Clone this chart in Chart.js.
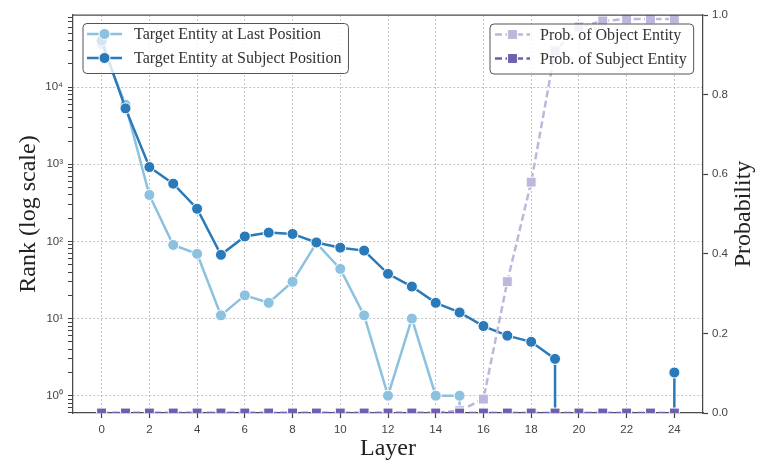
<!DOCTYPE html>
<html lang="en">
<head>
<meta charset="UTF-8">
<title>Rank and probability by layer</title>
<script src="https://cdn.jsdelivr.net/npm/chart.js@4"></script>
<style>
html, body { margin: 0; padding: 0; background: #fff; }
#wrap { position: relative; width: 759px; height: 461px; }
</style>
</head>
<body>
<div id="wrap"><canvas id="rankChart"></canvas></div>
<script>
// values
var layers = [0, 1, 2, 3, 4, 5, 6, 7, 8, 9, 10, 11, 12, 13, 14, 15, 16, 17, 18, 19, 20, 21, 22, 23, 24];
var lastPosRank = [36000, 5900, 400, 90, 69, 11, 20, 16, 30, 95, 44, 11, 1, 10, 1, 1, 0, 0, 0, 0, 0, 0, 0, 0, 0];
var subjPosRank = [40000, 5300, 920, 560, 265, 67, 116, 130, 125, 97, 83, 76, 38, 26, 16, 12, 8, 6, 5, 3, 0, 0, 0, 0, 2];
var objectProb = [0, 0, 0, 0, 0, 0, 0, 0, 0, 0, 0, 0, 0, 0, 0, 0.006, 0.035, 0.33, 0.58, 0.91, 0.97, 0.985, 0.99, 0.99, 0.99];
var subjectProb = [0, 0, 0, 0, 0, 0, 0, 0, 0, 0, 0, 0, 0, 0, 0, 0, 0, 0, 0, 0, 0, 0, 0, 0, 0];

var xTicks = [0, 2, 4, 6, 8, 10, 12, 14, 16, 18, 20, 22, 24];
var rankDecades = [1, 10, 100, 1000, 10000];
var rankDecadeLabels = ['10\u2070', '10\u00b9', '10\u00b2', '10\u00b3', '10\u2074'];
var probTicks = [0, 0.2, 0.4, 0.6, 0.8, 1.0];

var lightBlue = '#8dc1e0';
var darkBlue = '#2a7ab9';
var lightPurple = '#bbb8db';
var darkPurple = '#6f5fae';

// rank 0 has no log value: like matplotlib, push it far below the axis so the line drops off
function toLog(v) {
    return v > 0 ? v : 1e-300;
}

function rankPoints(vals) {
    return layers.map(function (l, i) { return { x: l, y: toLog(vals[i]) }; });
}

function probPoints(vals) {
    return layers.map(function (l, i) { return { x: l, y: vals[i] }; });
}

// minor ticks of the log axis (2..9 of each decade)
function logTicks(min, max) {
    var out = [];
    for (var e = -1; e <= 5; e++) {
        for (var m = 1; m <= 9; m++) {
            var v = m * Math.pow(10, e);
            if (v >= min && v <= max) out.push({ value: v });
        }
    }
    return out;
}

var legendGroups = [
    { x: 83, y: 23.5, handleX: 87, textX: 134, items: [0, 1] },
    { x: 490, y: 24, handleX: 495, textX: 540, items: [2, 3] }
];

var framePlugin = {
    id: 'frame',
    afterDraw: function (chart) {
        var ctx = chart.ctx;
        var a = chart.chartArea;
        ctx.save();
        // top spine
        ctx.strokeStyle = '#4a4a4a';
        ctx.lineWidth = 1.25;
        ctx.beginPath();
        ctx.moveTo(a.left, a.top);
        ctx.lineTo(a.right, a.top);
        ctx.stroke();

        // right axis title, reads bottom to top
        ctx.translate(744, (a.top + a.bottom) / 2);
        ctx.rotate(-Math.PI / 2);
        ctx.fillStyle = '#222';
        ctx.font = '24px "Liberation Serif"';
        ctx.textAlign = 'center';
        ctx.textBaseline = 'middle';
        ctx.fillText('Probability', 0, 0);
        ctx.restore();

        // two legend boxes
        legendGroups.forEach(function (g) {
            ctx.save();
            ctx.font = '16px "Liberation Serif"';
            var tw = 0;
            g.items.forEach(function (i) {
                tw = Math.max(tw, ctx.measureText(chart.data.datasets[i].label).width);
            });
            var w = g.textX - g.x + tw + 7;
            var h = 50;
            ctx.beginPath();
            ctx.roundRect(g.x, g.y, w, h, 4);
            ctx.fillStyle = 'rgba(255,255,255,0.8)';
            ctx.fill();
            ctx.strokeStyle = '#555';
            ctx.lineWidth = 1;
            ctx.stroke();

            g.items.forEach(function (i, k) {
                var ds = chart.data.datasets[i];
                var y = g.y + 10.5 + k * 24;
                ctx.setLineDash(ds.borderDash || []);
                ctx.strokeStyle = ds.borderColor;
                ctx.lineWidth = ds.borderWidth;
                ctx.beginPath();
                ctx.moveTo(g.handleX, y);
                ctx.lineTo(g.handleX + 35, y);
                ctx.stroke();
                ctx.setLineDash([]);
                var mx = g.handleX + 17.5;
                ctx.fillStyle = ds.pointBackgroundColor;
                ctx.strokeStyle = '#fff';
                ctx.lineWidth = 1;
                ctx.beginPath();
                if (ds.pointStyle === 'rect') {
                    var s = ds.pointRadius * Math.SQRT1_2;
                    ctx.rect(mx - s, y - s, 2 * s, 2 * s);
                } else {
                    ctx.arc(mx, y, ds.pointRadius, 0, Math.PI * 2);
                }
                ctx.fill();
                ctx.stroke();
                ctx.fillStyle = '#333';
                ctx.textBaseline = 'middle';
                ctx.fillText(ds.label, g.textX, y + 1);
            });
            ctx.restore();
        });
    }
};

var ctx = document.getElementById('rankChart').getContext('2d');
var myChart = new Chart(ctx, {
    type: 'line',
    data: {
        datasets: [
            {
                label: 'Target Entity at Last Position',
                data: rankPoints(lastPosRank),
                yAxisID: 'y',
                borderColor: lightBlue,
                backgroundColor: lightBlue,
                pointBackgroundColor: lightBlue,
                pointBorderColor: '#fff',
                pointBorderWidth: 1,
                pointRadius: 5.5,
                pointStyle: 'circle',
                borderWidth: 2.5,
                clip: 0,
                order: 4
            },
            {
                label: 'Target Entity at Subject Position',
                data: rankPoints(subjPosRank),
                yAxisID: 'y',
                borderColor: darkBlue,
                backgroundColor: darkBlue,
                pointBackgroundColor: darkBlue,
                pointBorderColor: '#fff',
                pointBorderWidth: 1,
                pointRadius: 5.5,
                pointStyle: 'circle',
                borderWidth: 2.5,
                clip: 0,
                order: 3
            },
            {
                label: 'Prob. of Object Entity',
                data: probPoints(objectProb),
                yAxisID: 'y1',
                borderColor: lightPurple,
                backgroundColor: lightPurple,
                pointBackgroundColor: lightPurple,
                pointBorderColor: '#fff',
                pointBorderWidth: 1,
                pointRadius: 7,
                pointStyle: 'rect',
                borderWidth: 2.5,
                borderDash: [7, 3.5],
                clip: 0,
                order: 2
            },
            {
                label: 'Prob. of Subject Entity',
                data: probPoints(subjectProb),
                yAxisID: 'y1',
                borderColor: darkPurple,
                backgroundColor: darkPurple,
                pointBackgroundColor: darkPurple,
                pointBorderColor: '#fff',
                pointBorderWidth: 1,
                pointRadius: 7,
                pointStyle: 'rect',
                borderWidth: 2.5,
                borderDash: [7, 3.5],
                clip: 0,
                order: 1
            }
        ]
    },
    options: {
        responsive: true,
        maintainAspectRatio: false,
        animation: false,
        layout: { padding: { top: 15, left: 0, right: 0, bottom: 0 } },
        plugins: {
            legend: { display: false },
            tooltip: { enabled: false }
        },
        scales: {
            x: {
                type: 'linear',
                min: -1.2,
                max: 25.2,
                afterBuildTicks: function (scale) {
                    scale.ticks = xTicks.map(function (v) { return { value: v }; });
                },
                afterFit: function (scale) { scale.height = 48; },
                ticks: {
                    autoSkip: false,
                    maxRotation: 0,
                    padding: 5,
                    color: '#444',
                    font: { family: 'Liberation Sans', size: 11.5 }
                },
                grid: {
                    color: '#b5b5b5',
                    lineWidth: 0.8,
                    tickLength: 5,
                    tickColor: '#444',
                    tickWidth: 1.2,
                    tickBorderDash: []
                },
                border: { color: '#4a4a4a', width: 1.25, dash: [2, 2] },
                title: {
                    display: true,
                    text: 'Layer',
                    color: '#222',
                    font: { family: 'Liberation Serif', size: 24 },
                    padding: { top: 0, bottom: -2 }
                }
            },
            y: {
                type: 'logarithmic',
                position: 'left',
                min: 0.597,
                max: 86000,
                bounds: 'data',
                afterBuildTicks: function (scale) {
                    scale.ticks = logTicks(scale.min, scale.max);
                },
                afterFit: function (scale) { scale.width = 73; },
                ticks: {
                    autoSkip: false,
                    padding: 5,
                    color: '#444',
                    font: { family: 'Liberation Sans', size: 11.5 },
                    callback: function (value) {
                        var k = rankDecades.indexOf(value);
                        return k >= 0 ? rankDecadeLabels[k] : '';
                    }
                },
                grid: {
                    color: function (c) {
                        return c.tick && rankDecades.indexOf(c.tick.value) >= 0 ? '#b5b5b5' : 'rgba(0,0,0,0)';
                    },
                    lineWidth: 0.8,
                    tickLength: 5,
                    tickColor: '#444',
                    tickWidth: 1,
                    tickBorderDash: []
                },
                border: { color: '#4a4a4a', width: 1.25, dash: [2, 2] },
                title: {
                    display: true,
                    text: 'Rank (log scale)',
                    color: '#222',
                    font: { family: 'Liberation Serif', size: 24 },
                    padding: { top: 14, bottom: 0 }
                }
            },
            y1: {
                type: 'linear',
                position: 'right',
                min: 0,
                max: 1,
                afterBuildTicks: function (scale) {
                    scale.ticks = probTicks.map(function (v) { return { value: v }; });
                },
                afterFit: function (scale) { scale.width = 56; },
                ticks: {
                    padding: 4,
                    color: '#444',
                    font: { family: 'Liberation Sans', size: 11.5 },
                    callback: function (value) { return value.toFixed(1); }
                },
                grid: {
                    drawOnChartArea: false,
                    tickLength: 5,
                    tickColor: '#444',
                    tickWidth: 1.2,
                    tickBorderDash: []
                },
                border: { color: '#4a4a4a', width: 1.25 },
                title: { display: false }
            }
        }
    },
    plugins: [framePlugin]
});
</script>
</body>
</html>
